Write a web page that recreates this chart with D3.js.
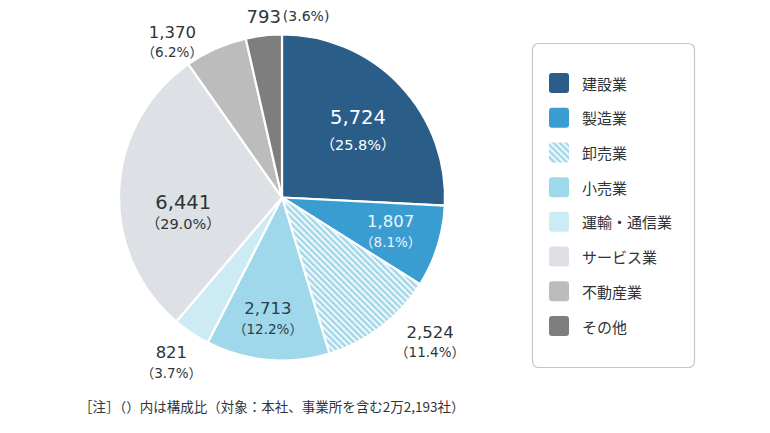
<!DOCTYPE html>
<html>
<head>
<meta charset="utf-8">
<script src="https://cdn.jsdelivr.net/npm/d3@7"></script>
<style>
  body { margin: 0; background: #fff; }
  svg { display: block; }
</style>
</head>
<body>
<div id="container"></div>
<script>

// data
let categories = ["建設業", "製造業", "卸売業", "小売業", "運輸・通信業", "サービス業", "不動産業", "その他"];
let counts = [5724, 1807, 2524, 2713, 821, 6441, 1370, 793];
let shares = ["25.8%", "8.1%", "11.4%", "12.2%", "3.7%", "29.0%", "6.2%", "3.6%"];
let note = "［注］（）内は構成比（対象：本社、事業所を含む2万2,193社）";

let w = 770;
let h = 433;

let colors = ["#2a5e88", "#3a9dd1", "url(#hatch)", "#9ed8ea", "#cdebf5", "#dde1e5", "#bcbcbc", "#7e7e7e"];
let legendColors = ["#2a5e88", "#3a9dd1", "url(#hatchSmall)", "#9ed8ea", "#cdebf5", "#dde1e5", "#bcbcbc", "#7e7e7e"];
let textColors = ["#ffffff", "#eaf5fb", "#2f3437", "#2b3d4a", "#2f3437", "#2f3437", "#2f3437", "#2f3437"];

// label placement: distance from centre, angle nudge (degrees) off the slice middle, half line gap
let labelR = [101, 114, 207, 122, 199, 100, 190, 182];
let labelNudge = [2.4, 0, -8.3, 1.5, 0, -11.6, -11.3, 8.3];
let labelGap = [13.5, 10, 10, 10, 10, 10.5, 10, 0];
let labelInline = [false, false, false, false, false, false, false, true];

let cx = 282, cy = 197.5, r = 163;
let numFont = "'DejaVu Sans', 'Noto Sans CJK JP', sans-serif";
let jpFont = "'Noto Sans CJK JP', 'Noto Sans', sans-serif";

let viz = d3.select("#container")
  .append("svg")
    .attr("width", w)
    .attr("height", h)
;

// hatch pattern for 卸売業
let defs = viz.append("defs");
function makeHatch(id) {
  let p = defs.append("pattern")
      .attr("id", id)
      .attr("patternUnits", "userSpaceOnUse")
      .attr("width", 4.4)
      .attr("height", 4.4)
      .attr("patternTransform", "rotate(-45)");
  p.append("rect").attr("width", 4.4).attr("height", 4.4).attr("fill", "#f2fafc");
  p.append("rect").attr("width", 2.4).attr("height", 4.4).attr("fill", "#a3d7e9");
}
makeHatch("hatch");
makeHatch("hatchSmall");

//pie
let pie = d3.pie().sort(null).value(d => d);
let arcs = pie(counts);
let arc = d3.arc().innerRadius(0).outerRadius(r);

let pieGroup = viz.append("g").attr("transform", "translate(" + cx + "," + cy + ")");

pieGroup.selectAll(".slice").data(arcs).enter()
  .append("path")
    .attr("class", "slice")
    .attr("d", arc)
    .attr("fill", (d, i) => colors[i])
    .attr("stroke", "#fff")
    .attr("stroke-width", 2.2)
    .attr("stroke-linejoin", "round")
;

//labels
let fmt = d3.format(",");
let labelGroup = viz.append("g");

arcs.forEach(function(d, i){
  let a = (d.startAngle + d.endAngle) / 2 + labelNudge[i] * Math.PI / 180;
  let x = cx + labelR[i] * Math.sin(a);
  let y = cy - labelR[i] * Math.cos(a);
  let big = d.value / d3.sum(counts) > 0.2;

  if (labelInline[i]) {
    let t = labelGroup.append("text")
        .attr("x", x).attr("y", y)
        .attr("text-anchor", "middle")
        .attr("dominant-baseline", "central")
        .attr("fill", textColors[i])
        .style("font-family", numFont);
    t.append("tspan").attr("font-size", 18).text(fmt(counts[i]));
    t.append("tspan").attr("font-size", 14).attr("dx", 2).text("(" + shares[i] + ")");
    return;
  }

  let gap = labelGap[i];
  labelGroup.append("text")
      .attr("x", x).attr("y", y - gap)
      .attr("text-anchor", "middle")
      .attr("dominant-baseline", "central")
      .attr("fill", textColors[i])
      .attr("font-size", big ? 19.5 : 16.5)
      .style("font-family", numFont)
      .text(fmt(counts[i]));
  labelGroup.append("text")
      .attr("x", x).attr("y", y + gap)
      .attr("text-anchor", "middle")
      .attr("dominant-baseline", "central")
      .attr("fill", textColors[i])
      .attr("font-size", big ? 14.5 : 13.5)
      .style("font-family", numFont)
      .text("（" + shares[i] + "）");
});

//legend
let legend = viz.append("g").attr("class", "legend");
legend.append("rect")
    .attr("x", 532.5).attr("y", 43.5)
    .attr("width", 162).attr("height", 324)
    .attr("rx", 6)
    .attr("fill", "#fff")
    .attr("stroke", "#c6c6c6")
    .attr("stroke-width", 1.2);

let legendY = d3.scalePoint().domain(categories).range([83, 326]);

let rows = legend.selectAll(".row").data(categories).enter()
  .append("g")
    .attr("class", "row")
    .attr("transform", d => "translate(549," + legendY(d) + ")");

rows.append("rect")
    .attr("x", 0).attr("y", -10)
    .attr("width", 20).attr("height", 20)
    .attr("rx", 3)
    .attr("fill", (d, i) => legendColors[i]);

rows.append("text")
    .attr("x", 33).attr("y", 0)
    .attr("dominant-baseline", "central")
    .attr("font-size", 15)
    .attr("fill", "#2f3437")
    .style("font-family", jpFont)
    .text(d => d);

//note
viz.append("text")
    .attr("x", 79).attr("y", 406)
    .attr("dominant-baseline", "central")
    .attr("font-size", 13.5)
    .attr("fill", "#2f3437")
    .style("font-family", jpFont)
    .text(note);

</script>
</body>
</html>
